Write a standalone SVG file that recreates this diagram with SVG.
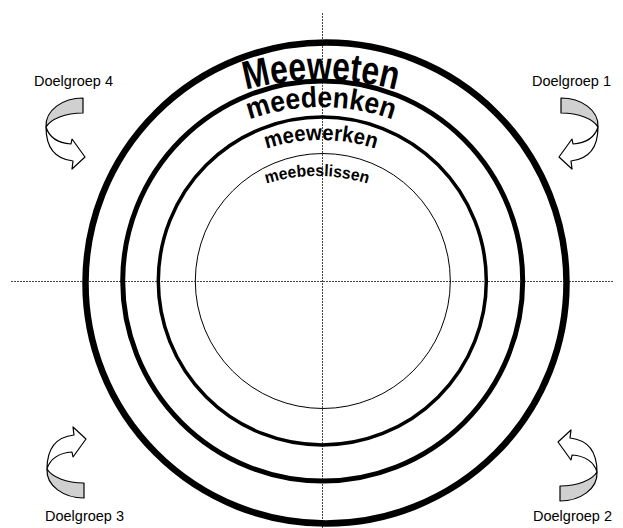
<svg xmlns="http://www.w3.org/2000/svg" width="623" height="528" viewBox="0 0 623 528">
<style>
.axis{stroke:#444;stroke-width:1;stroke-dasharray:2 1;fill:none}
.ring{fill:none;stroke:#000}
.arc{font-family:"Liberation Sans",Arial,sans-serif;font-weight:bold;fill:#000}
.lbl{font-family:"Liberation Sans",Arial,sans-serif;font-size:14.5px;fill:#000}
.band{fill:#d0d0d0;stroke:#000;stroke-width:1.2;stroke-linejoin:round}
.head{fill:#fff;stroke:#000;stroke-width:1.2;stroke-linejoin:round}
</style>
<defs>
<path id="p1" d="M 31,370 A 290 290 0 0 1 611,370"/>
<path id="p2" d="M 111,317 A 210 210 0 0 1 531,317"/>
<path id="p3" d="M 146,315 A 175 175 0 0 1 496,315"/>
<path id="p4" d="M 147,346 A 170 170 0 0 1 487,346"/>
<g id="arrow">
<path class="band" d="M83,98 C63,98 45,110 46,127 C51,119 65,113 83,113 Z"/>
<path class="head" d="M46,127 C49,137 58,143 71,144 L72,139 L85,157 L72,169 L73,161 C55,159 46,147 46,127 Z"/>
</g>
</defs>
<g id="connectors">
<line class="axis" x1="11" y1="281.5" x2="614" y2="281.5"/>
<line class="axis" x1="322.5" y1="13" x2="322.5" y2="528"/>
</g>
<g id="ring-meeweten"><circle class="ring" cx="326" cy="283" r="240.5" stroke-width="6.5"/></g>
<g id="ring-meedenken"><circle class="ring" cx="322.7" cy="281" r="200" stroke-width="5"/></g>
<g id="ring-meewerken"><circle class="ring" cx="322.3" cy="281" r="164" stroke-width="3.5"/></g>
<g id="ring-meebeslissen"><circle class="ring" cx="322.8" cy="281" r="127.5" stroke-width="1"/></g>
<g id="label-meeweten"><text class="arc" font-size="40"><textPath href="#p1" startOffset="50%" text-anchor="middle" textLength="152" lengthAdjust="spacingAndGlyphs">Meeweten</textPath></text></g>
<g id="label-meedenken"><text class="arc" font-size="29"><textPath href="#p2" startOffset="50%" text-anchor="middle" textLength="146" lengthAdjust="spacingAndGlyphs">meedenken</textPath></text></g>
<g id="label-meewerken"><text class="arc" font-size="22"><textPath href="#p3" startOffset="50%" text-anchor="middle" textLength="111" lengthAdjust="spacingAndGlyphs">meewerken</textPath></text></g>
<g id="label-meebeslissen"><text class="arc" font-size="16.5"><textPath href="#p4" startOffset="50%" text-anchor="middle" textLength="103" lengthAdjust="spacingAndGlyphs">meebeslissen</textPath></text></g>
<g id="doelgroep4"><use href="#arrow"/><text class="lbl" x="34" y="86">Doelgroep 4</text></g>
<g id="doelgroep1"><use href="#arrow" transform="translate(644,0) scale(-1,1)"/><text class="lbl" x="611" y="86" text-anchor="end">Doelgroep 1</text></g>
<g id="doelgroep3"><use href="#arrow" transform="translate(1,596) scale(1,-1)"/><text class="lbl" x="45" y="521">Doelgroep 3</text></g>
<g id="doelgroep2"><use href="#arrow" transform="translate(643,599) scale(-1,-1)"/><text class="lbl" x="612" y="521" text-anchor="end">Doelgroep 2</text></g>
</svg>
